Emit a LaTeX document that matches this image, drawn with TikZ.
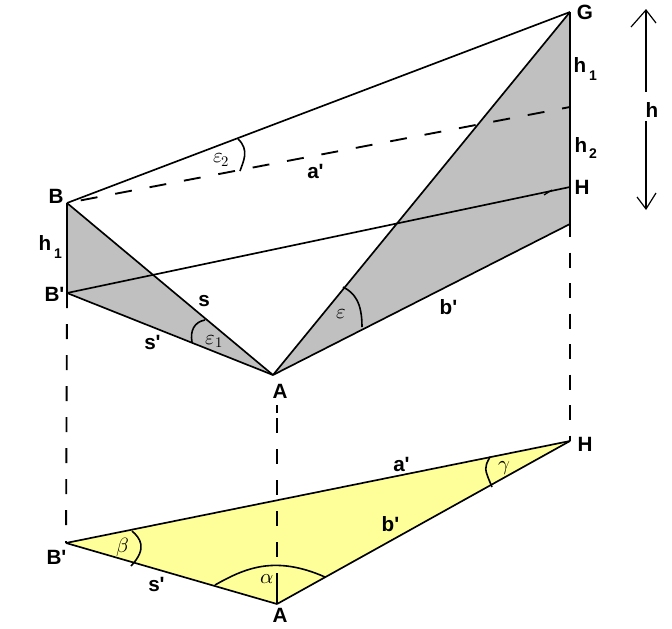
\documentclass[tikz,border=0pt]{standalone}
\usepackage{fontspec}
\setmainfont{Liberation Sans}
\usepackage{unicode-math}
\setmathfont{Latin Modern Math}
\definecolor{greyface}{HTML}{C0C0C0}
\definecolor{yellowface}{HTML}{FFFF99}
\newcommand{\prm}{\rlap{\smash{\textquotesingle}}}
\tikzset{
  x=0.75pt,y=-0.75pt,
  edge/.style={draw=black,line width=1.25pt},
  arcline/.style={draw=black,line width=1.2pt},
  thinedge/.style={draw=black,line width=0.9pt},
  dashbase/.style={draw=black,line width=1.4pt},
  lab/.style={inner sep=0pt,font=\fontsize{15.5}{17}\selectfont\bfseries},
  sublab/.style={inner sep=0pt,font=\fontsize{10.5}{11}\selectfont\bfseries},
  greek/.style={inner sep=0pt,font=\fontsize{15.5}{16}\selectfont},
  greeksub/.style={inner sep=0pt,font=\fontsize{11}{12}\selectfont},
}
\begin{document}
\begin{tikzpicture}
\useasboundingbox (0,0) rectangle (672,629);
\coordinate (B) at (67,203);
\coordinate (Bp) at (67,293);
\coordinate (A) at (273,375);
\coordinate (G) at (570,12);
\coordinate (H) at (570,187);
\coordinate (Hb) at (570,224);
\coordinate (D) at (570,107);
\coordinate (L) at (66,543);
\coordinate (M) at (277,604);
\coordinate (R) at (570,441);
\coordinate (Atop) at (277,402);
\coordinate (Hbot) at (570,237);
% fills
\fill[greyface] (B) -- (Bp) -- (A) -- cycle;
\fill[greyface] (G) -- (Hb) -- (A) -- cycle;
\fill[yellowface] (L) -- (M) -- (R) -- cycle;
% solid edges
\draw[edge] (B) -- (G);
\draw[edge] (B) -- (Bp);
\draw[edge] (B) -- (A);
\draw[edge] (Bp) -- (A);
\draw[edge] (Bp) -- (H);
\draw[edge] (A) -- (G);
\draw[edge] (A) -- (Hb);
\draw[edge] (G) -- (Hbot);
\draw[edge] (L) -- (M);
\draw[edge] (M) -- (R);
\draw[edge] (L) -- (R);
% dashed
\draw[dashbase,dash pattern=on 12.75pt off 13.5pt,dash phase=15.75pt] (B) -- (D);
\draw[dashbase,dash pattern=on 11.25pt off 12pt] (Bp) -- (L);
\draw[dashbase,dash pattern=on 11.25pt off 12pt,dash phase=11.25pt] (Atop) -- (M);
\coordinate (As1) at (277,405);
\coordinate (As2) at (277,413);
\coordinate (As3) at (277,573);
\draw[dashbase] (As1) -- (As2);
\draw[dashbase] (As3) -- (M);
\draw[dashbase,dash pattern=on 11.25pt off 11.625pt,dash phase=11.25pt] (Hbot) -- (R);
% angle arcs
\coordinate (e2a) at (238,139);
\coordinate (e2b) at (240,171);
\draw[arcline] (e2a) .. controls (250,150) and (243,162) .. (e2b);
\coordinate (e1a) at (205,320);
\coordinate (e1b) at (192,342);
\draw[arcline] (e1a) .. controls (194,322) and (190,331) .. (e1b);
\coordinate (ea) at (343,287);
\coordinate (eb) at (362,327);
\draw[arcline] (ea) .. controls (355,293) and (362,303) .. (eb);
\coordinate (ba) at (132,531);
\coordinate (bb) at (131,566);
\draw[arcline] (ba) .. controls (140,538) and (148,548) .. (bb);
\coordinate (aa) at (215,585);
\coordinate (ab) at (325,577);
\draw[arcline] (aa) .. controls (245,568) and (275,555) .. (ab);
\coordinate (ga) at (490,457);
\coordinate (gb) at (492,487);
\draw[arcline] (ga) .. controls (484,468) .. (gb);
% h arrow
\coordinate (hu) at (646,10);
\coordinate (hd) at (646,209);
\coordinate (hm1) at (646,92);
\coordinate (hm2) at (646,121);
\coordinate (ul) at (631,27);
\coordinate (ur) at (656,23);
\coordinate (dl) at (637,197);
\coordinate (dr) at (656,193);
\draw[thinedge] (hu) -- (hm1);
\draw[thinedge] (hm2) -- (hd);
\draw[thinedge] (ul) -- (hu) -- (ur);
\draw[thinedge] (dl) -- (hd) -- (dr);
% small tick at H
\coordinate (t1) at (552,190);
\coordinate (t2) at (544,195);
\draw[thinedge] (t1) -- (t2);
% labels
\node[lab] (nB) at (56,196) {B};
\node[lab] (nBp) at (52,294) {B\prm};
\node[lab] (nh1) at (45,243) {h};
\node[sublab] (nh1s) at (58,254) {1};
\node[lab] (nsp) at (150,344) {s\prm};
\node[lab] (ns) at (204,301) {s};
\node[lab] (nA) at (280,391) {A};
\node[lab] (nG) at (585,12) {G};
\node[lab] (nh1r) at (580,65) {h};
\node[sublab] (nh1rs) at (593,76) {1};
\node[lab] (nh2) at (581,145) {h};
\node[sublab] (nh2s) at (593,154) {2};
\node[lab] (nH) at (582,187) {H};
\node[lab] (nh) at (652,110) {h};
\node[lab] (nap) at (313,173) {a\prm};
\node[lab] (nbp) at (446,307) {b\prm};
\node[lab] (nHb) at (585,444) {H};
\node[lab] (nap2) at (399,466) {a\prm};
\node[lab] (nbp2) at (388,524) {b\prm};
\node[lab] (nBl) at (54,557) {B\prm};
\node[lab] (nsp2) at (154,586) {s\prm};
\node[lab] (nAb) at (280,615) {A};
\node[greek] (ne2) at (218,158) {$\varepsilon$};
\node[greeksub] (ne2s) at (225,162) {$2$};
\node[greek] (ne1) at (210,340) {$\varepsilon$};
\node[greeksub] (ne1s) at (219,343) {$1$};
\node[greek] (ne) at (341,314) {$\varepsilon$};
\node[greek] (nbe) at (123,547) {$\beta$};
\node[greek] (nal) at (267,579) {$\alpha$};
\node[greek] (nga) at (504,468) {$\gamma$};
\end{tikzpicture}
\end{document}
